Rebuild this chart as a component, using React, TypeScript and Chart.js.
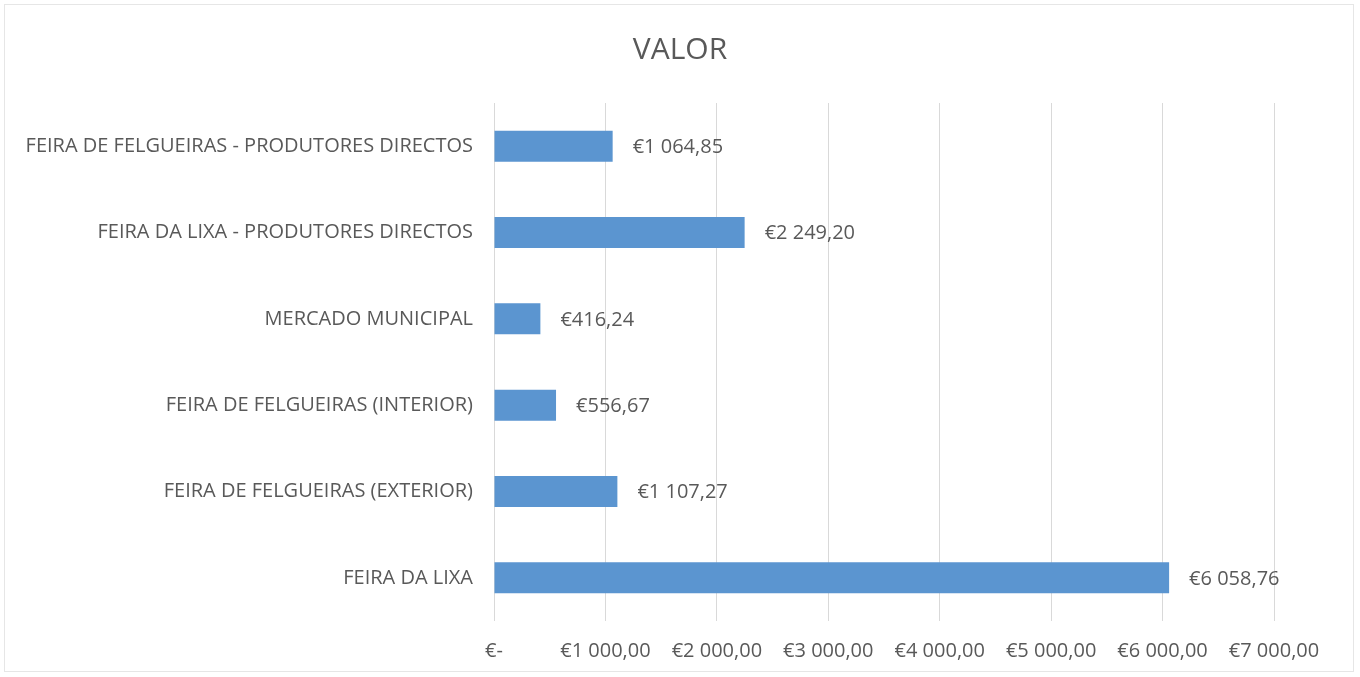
import React, { useEffect, useRef } from "react";
import { Chart, registerables } from "chart.js";

Chart.register(...registerables);

const title = "VALOR";
const categories = [
  "FEIRA DE FELGUEIRAS - PRODUTORES DIRECTOS",
  "FEIRA DA LIXA - PRODUTORES DIRECTOS",
  "MERCADO MUNICIPAL",
  "FEIRA DE FELGUEIRAS (INTERIOR)",
  "FEIRA DE FELGUEIRAS (EXTERIOR)",
  "FEIRA DA LIXA",
];
const values = [1064.85, 2249.2, 416.24, 556.67, 1107.27, 6058.76];
const axisMin = 0;
const axisMax = 7000;
const axisStep = 1000;

const TEXT = "#595959";
const FONT = "'Open Sans', sans-serif";

function fmtEuro(v: number, zeroDash: boolean): string {
  if (zeroDash && v === 0) return "€-";
  const fixed = v.toFixed(2);
  const [intPart, dec] = fixed.split(".");
  const grouped = intPart.replace(/\B(?=(\d{3})+(?!\d))/g, " ");
  return "€" + grouped + "," + dec;
}

const dataLabelPlugin = {
  id: "dataLabels",
  afterDatasetsDraw(chart: any) {
    const ctx = chart.ctx;
    const meta = chart.getDatasetMeta(0);
    ctx.save();
    ctx.font = `20px ${FONT}`;
    ctx.fillStyle = TEXT;
    ctx.textAlign = "left";
    ctx.textBaseline = "middle";
    meta.data.forEach((bar: any, i: number) => {
      ctx.fillText(fmtEuro(values[i], false), bar.x + 20, bar.y + 1);
    });
    ctx.restore();
  },
};

const framePlugin = {
  id: "frame",
  beforeDraw(chart: any) {
    const ctx = chart.ctx;
    ctx.save();
    ctx.fillStyle = "#ffffff";
    ctx.fillRect(0, 0, chart.width, chart.height);
    ctx.strokeStyle = "#e6e6e6";
    ctx.lineWidth = 1;
    ctx.strokeRect(4.5, 4.5, chart.width - 11, chart.height - 10);
    ctx.font = `30px ${FONT}`;
    ctx.fillStyle = TEXT;
    ctx.textAlign = "center";
    ctx.textBaseline = "middle";
    ctx.fillText(title, chart.width / 2, 50);
    ctx.restore();
  },
};

export default function App() {
  const ref = useRef<HTMLCanvasElement | null>(null);
  useEffect(() => {
    document.body.style.margin = "0";
    if (!ref.current) return;
    const chart = new Chart(ref.current, {
      type: "bar",
      data: {
        labels: categories,
        datasets: [
          {
            data: values,
            backgroundColor: "#5B95D0",
            borderWidth: 0,
            barPercentage: 0.36,
            categoryPercentage: 1,
          },
        ],
      },
      options: {
        indexAxis: "y",
        animation: false,
        responsive: false,
        maintainAspectRatio: false,
        layout: { padding: { top: 103, right: 86, bottom: 12, left: 0 } },
        plugins: {
          legend: { display: false },
          tooltip: { enabled: false },
          title: { display: false },
        },
        scales: {
          x: {
            min: axisMin,
            max: axisMax,
            grid: { color: "#d9d9d9", drawTicks: false },
            border: { display: false },
            ticks: {
              stepSize: axisStep,
              color: TEXT,
              font: { family: FONT, size: 20 },
              padding: 18,
              maxRotation: 0,
              callback: (v: any) => fmtEuro(Number(v), true),
            },
            afterFit: (s: any) => {
              s.height = 44;
            },
          },
          y: {
            grid: { display: false, drawTicks: false },
            border: { display: false },
            ticks: {
              color: TEXT,
              font: { family: FONT, size: 20 },
              padding: 21,
              autoSkip: false,
            },
            afterFit: (s: any) => {
              s.width = 494;
            },
          },
        },
      },
      plugins: [framePlugin, dataLabelPlugin],
    });
    return () => chart.destroy();
  }, []);
  return <canvas ref={ref} width={1360} height={677} style={{ display: "block" }} />;
}
